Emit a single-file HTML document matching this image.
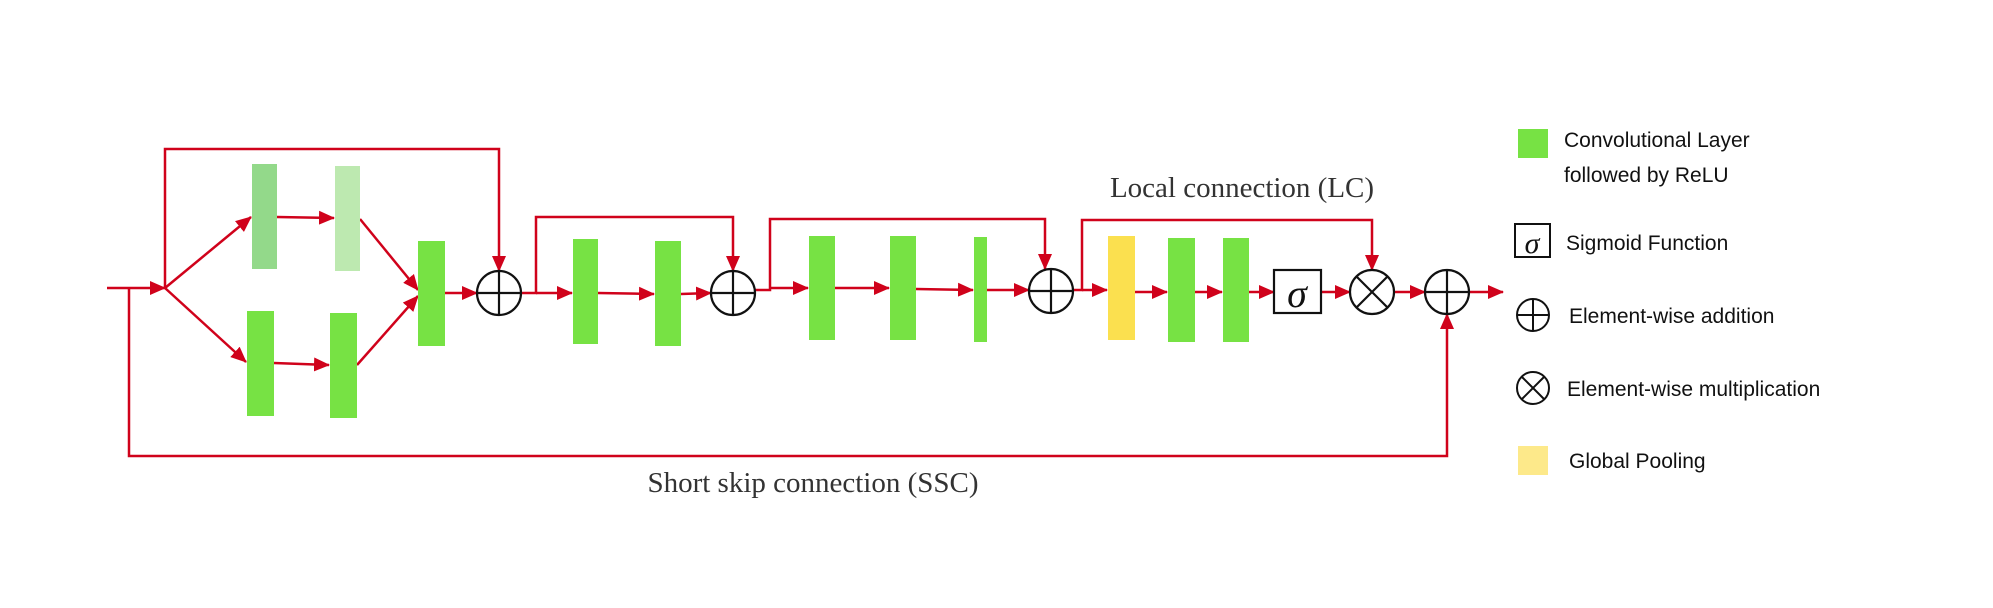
<!DOCTYPE html>
<html><head><meta charset="utf-8"><style>
html,body{margin:0;padding:0;background:#fff;}
svg{display:block;}
</style></head><body>
<svg width="1993" height="608" viewBox="0 0 1993 608" xmlns="http://www.w3.org/2000/svg">
<defs>
<marker id="a" markerWidth="10" markerHeight="10" refX="9" refY="5" orient="auto" markerUnits="userSpaceOnUse">
<path d="M0,0 L10,5 L0,10 z" fill="#d0021b"/></marker>
<marker id="b" markerWidth="16" markerHeight="14" refX="15" refY="7" orient="auto" markerUnits="userSpaceOnUse">
<path d="M0,0 L16,7 L0,14 z" fill="#d0021b"/></marker>
</defs>
<g stroke="#d0021b" stroke-width="2.5" fill="none">
<!-- input -->
<line x1="107" y1="288" x2="165" y2="288" marker-end="url(#b)"/>
<!-- top skip 1 -->
<polyline points="165,288 165,149 499,149 499,271" marker-end="url(#b)"/>
<!-- branches -->
<line x1="165" y1="288" x2="251" y2="217" marker-end="url(#b)"/>
<line x1="165" y1="288" x2="246" y2="362" marker-end="url(#b)"/>
<line x1="277" y1="217" x2="334" y2="218" marker-end="url(#b)"/>
<line x1="274" y1="363" x2="329" y2="365" marker-end="url(#b)"/>
<line x1="360" y1="219" x2="418" y2="290" marker-end="url(#b)"/>
<line x1="357" y1="365" x2="418" y2="296" marker-end="url(#b)"/>
<line x1="445" y1="293" x2="477" y2="293" marker-end="url(#b)"/>
<!-- segment 2 -->
<polyline points="521,293 536,293 536,217 733,217 733,271" marker-end="url(#b)"/>
<line x1="536" y1="293" x2="572" y2="293" marker-end="url(#b)"/>
<line x1="598" y1="293" x2="654" y2="294" marker-end="url(#b)"/>
<line x1="681" y1="294" x2="711" y2="293" marker-end="url(#b)"/>
<!-- segment 3 -->
<polyline points="755,290 770,290 770,219 1045,219 1045,269" marker-end="url(#b)"/>
<line x1="770" y1="288" x2="808" y2="288" marker-end="url(#b)"/>
<line x1="835" y1="288" x2="889" y2="288" marker-end="url(#b)"/>
<line x1="916" y1="289" x2="973" y2="290" marker-end="url(#b)"/>
<line x1="987" y1="290" x2="1029" y2="290" marker-end="url(#b)"/>
<!-- segment 4 -->
<polyline points="1073,290 1082,290 1082,220 1372,220 1372,270" marker-end="url(#b)"/>
<line x1="1082" y1="290" x2="1107" y2="290" marker-end="url(#b)"/>
<line x1="1135" y1="292" x2="1167" y2="292" marker-end="url(#b)"/>
<line x1="1195" y1="292" x2="1222" y2="292" marker-end="url(#b)"/>
<line x1="1249" y1="292" x2="1274" y2="292" marker-end="url(#b)"/>
<line x1="1321" y1="292" x2="1350" y2="292" marker-end="url(#b)"/>
<line x1="1394" y1="292" x2="1425" y2="292" marker-end="url(#b)"/>
<line x1="1469" y1="292" x2="1503" y2="292" marker-end="url(#b)"/>
<!-- SSC -->
<polyline points="129,288 129,456 1447,456 1447,314" marker-end="url(#b)"/>
</g>
<!-- blocks -->
<rect x="252" y="164" width="25" height="105" fill="#93d98a"/>
<rect x="335" y="166" width="25" height="105" fill="#bde9b0"/>
<rect x="247" y="311" width="27" height="105" fill="#77e244"/>
<rect x="330" y="313" width="27" height="105" fill="#77e244"/>
<rect x="418" y="241" width="27" height="105" fill="#77e244"/>
<rect x="573" y="239" width="25" height="105" fill="#77e244"/>
<rect x="655" y="241" width="26" height="105" fill="#77e244"/>
<rect x="809" y="236" width="26" height="104" fill="#77e244"/>
<rect x="890" y="236" width="26" height="104" fill="#77e244"/>
<rect x="974" y="237" width="13" height="105" fill="#77e244"/>
<rect x="1108" y="236" width="27" height="104" fill="#fbe04f"/>
<rect x="1168" y="238" width="27" height="104" fill="#77e244"/>
<rect x="1223" y="238" width="26" height="104" fill="#77e244"/>
<!-- circles -->
<g stroke="#111" stroke-width="2.2" fill="#fff">
<circle cx="499" cy="293" r="22"/>
<line x1="477" y1="293" x2="521" y2="293"/><line x1="499" y1="271" x2="499" y2="315"/>
<circle cx="733" cy="293" r="22"/>
<line x1="711" y1="293" x2="755" y2="293"/><line x1="733" y1="271" x2="733" y2="315"/>
<circle cx="1051" cy="291" r="22"/>
<line x1="1029" y1="291" x2="1073" y2="291"/><line x1="1051" y1="269" x2="1051" y2="313"/>
<circle cx="1372" cy="292" r="22"/>
<line x1="1356" y1="276" x2="1388" y2="308"/><line x1="1388" y1="276" x2="1356" y2="308"/>
<circle cx="1447" cy="292" r="22"/>
<line x1="1425" y1="292" x2="1469" y2="292"/><line x1="1447" y1="270" x2="1447" y2="314"/>
<rect x="1274" y="270" width="47" height="43"/>
</g>
<text x="1297" y="307" font-family="Liberation Serif, serif" font-style="italic" font-size="40" text-anchor="middle" fill="#111">σ</text>
<!-- labels -->
<text x="1242" y="197" font-family="Liberation Serif, serif" font-size="29" text-anchor="middle" fill="#333">Local connection (LC)</text>
<text x="813" y="492" font-family="Liberation Serif, serif" font-size="29" text-anchor="middle" fill="#333">Short skip connection (SSC)</text>
<!-- legend -->
<rect x="1518" y="129" width="30" height="29" fill="#77e244"/>
<g font-family="Liberation Sans, sans-serif" font-size="21" fill="#111">
<text x="1564" y="147">Convolutional Layer</text>
<text x="1564" y="182">followed by ReLU</text>
<text x="1566" y="250">Sigmoid Function</text>
<text x="1569" y="323">Element-wise addition</text>
<text x="1567" y="396">Element-wise multiplication</text>
<text x="1569" y="468">Global Pooling</text>
</g>
<rect x="1515" y="224" width="35" height="33" fill="#fff" stroke="#111" stroke-width="2"/>
<text x="1532" y="253" font-family="Liberation Serif, serif" font-style="italic" font-size="30" text-anchor="middle" fill="#111">σ</text>
<g stroke="#111" stroke-width="2" fill="none">
<circle cx="1533" cy="315" r="16"/>
<line x1="1517" y1="315" x2="1549" y2="315"/><line x1="1533" y1="299" x2="1533" y2="331"/>
<circle cx="1533" cy="388" r="16"/>
<line x1="1522" y1="377" x2="1544" y2="399"/><line x1="1544" y1="377" x2="1522" y2="399"/>
</g>
<rect x="1518" y="446" width="30" height="29" fill="#fde98a"/>
</svg>
</body></html>
